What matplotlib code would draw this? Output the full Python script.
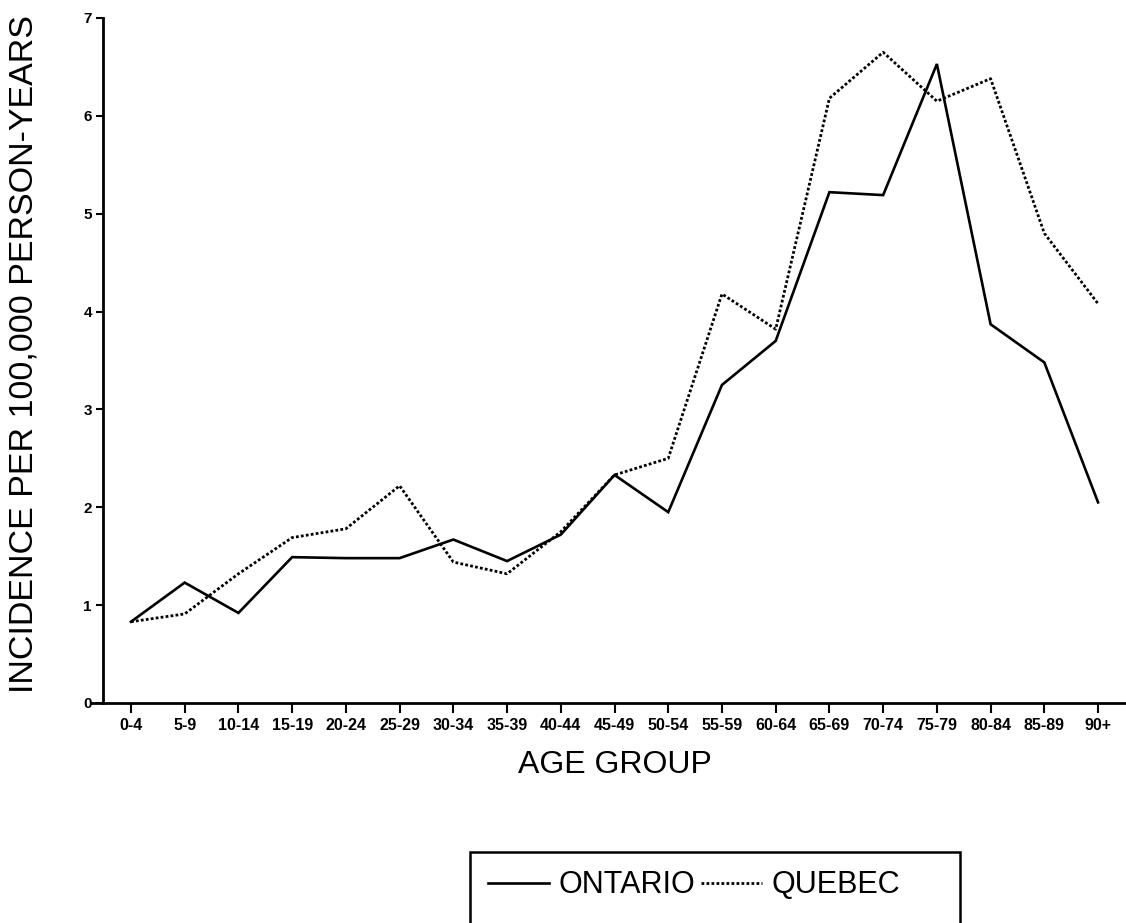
import matplotlib.pyplot as plt
from matplotlib.lines import Line2D
from matplotlib.patches import Rectangle

age_groups = ["0-4", "5-9", "10-14", "15-19", "20-24", "25-29", "30-34",
              "35-39", "40-44", "45-49", "50-54", "55-59", "60-64", "65-69",
              "70-74", "75-79", "80-84", "85-89", "90+"]
ontario = [0.83, 1.23, 0.92, 1.49, 1.48, 1.48, 1.67, 1.45, 1.72, 2.33,
           1.95, 3.25, 3.70, 5.22, 5.19, 6.53, 3.87, 3.48, 2.05]
quebec = [0.83, 0.91, 1.32, 1.69, 1.78, 2.22, 1.44, 1.32, 1.75, 2.33,
          2.50, 4.18, 3.82, 6.18, 6.65, 6.15, 6.38, 4.80, 4.08]
y_ticks = [0, 1, 2, 3, 4, 5, 6, 7]

plt.rcParams['font.family'] = ['Liberation Sans', 'DejaVu Sans']

fig = plt.figure(figsize=(11.26, 9.23), dpi=100)
ax = fig.add_axes([0.0915, 0.2384, 0.9085, 0.7421])

x = list(range(len(age_groups)))
ax.plot(x, ontario, color="black", lw=1.9, solid_joinstyle="miter")
ax.plot(x, quebec, color="black", lw=2.0, linestyle=(0, (1, 0.8)))

ax.set_xlim(-0.52, 18.52)
ax.set_ylim(0, 7)
ax.set_xticks(x)
ax.set_xticklabels(age_groups, fontsize=11.5, fontweight="bold",
                   family=['Liberation Sans Narrow', 'Liberation Sans'])
ax.set_yticks(y_ticks)
ax.set_yticklabels([str(v) for v in y_ticks], fontsize=11, fontweight="bold")
ax.tick_params(axis="x", direction="out", length=7, width=1.5, pad=4)
ax.tick_params(axis="y", direction="out", length=5, width=1.5, pad=3)

for s in ["top", "right"]:
    ax.spines[s].set_visible(False)
for s in ["left", "bottom"]:
    ax.spines[s].set_linewidth(2)
ax.spines["bottom"].set_bounds(-0.72, 18.52)

ax.set_xlabel("AGE GROUP", fontsize=23, labelpad=12)
ax.set_ylabel("INCIDENCE PER 100,000 PERSON-YEARS", fontsize=24.5)
ax.yaxis.set_label_coords(-0.062, 0.51)

# legend box, open at the bottom edge like the scan
fig.add_artist(Rectangle((470 / 1126, -0.05), 490 / 1126, 0.05 + 71 / 923,
                         transform=fig.transFigure, fill=False,
                         edgecolor="black", lw=1.8))

handles = [Line2D([], [], color="black", lw=1.9),
           Line2D([], [], color="black", lw=2.0, linestyle=(0, (1, 0.8)))]
fig.legend(handles, ["ONTARIO", "QUEBEC"], ncol=2,
           loc="upper left", bbox_to_anchor=(476 / 1126, 1 - 858 / 923),
           fontsize=22, frameon=False, handlelength=2.0,
           handletextpad=0.3, columnspacing=0.2, borderpad=0.4,
           borderaxespad=0)

plt.savefig("out.png", dpi=100)
